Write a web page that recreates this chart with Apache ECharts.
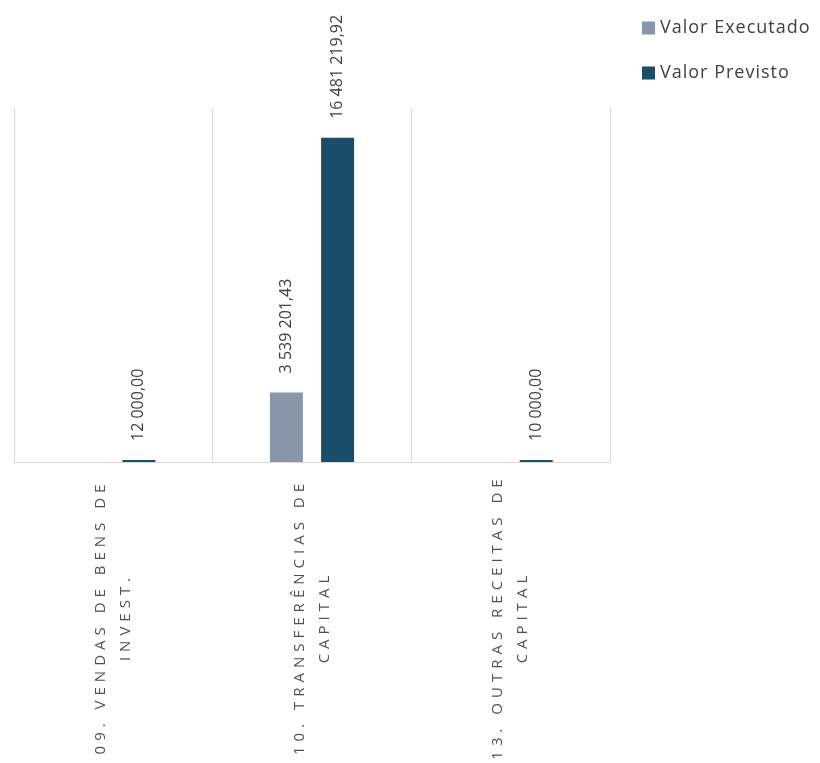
<!DOCTYPE html>
<html>
<head>
<meta charset="utf-8">
<script src="https://cdn.jsdelivr.net/npm/echarts@6/dist/echarts.min.js"></script>
<style>html,body{margin:0;padding:0;background:#fff}#c{width:820px;height:763px}</style>
</head>
<body>
<div id="c"></div>
<script>
const categories = ['09. VENDAS DE BENS DE\nINVEST.', '10. TRANSFERÊNCIAS DE\nCAPITAL', '13. OUTRAS RECEITAS DE\nCAPITAL'];
const seriesNames = ['Valor Executado', 'Valor Previsto'];
const valorExecutado = [null, 3539201.43, null];
const valorPrevisto = [12000.00, 16481219.92, 10000.00];

// letter-spaced category labels and legend text (as in the original)
const spacing = new Map();
categories.forEach(c => c.split('\n').forEach(l => spacing.set(l, '5px')));
seriesNames.forEach(n => spacing.set(n, '1px'));
const origFill = CanvasRenderingContext2D.prototype.fillText;
CanvasRenderingContext2D.prototype.fillText = function (t, x, y, w) {
  const want = spacing.get(t) || '0px';
  if (this.letterSpacing !== want) {
    this.letterSpacing = want;
    const f = this.font; this.font = f;
  }
  if (w === undefined) origFill.call(this, t, x, y); else origFill.call(this, t, x, y, w);
};

function fmt(v) {
  const parts = v.toFixed(2).split('.');
  const intPart = parts[0].replace(/\B(?=(\d{3})+(?!\d))/g, ' ');
  return intPart + ',' + parts[1];
}

const FONT = '"Open Sans", "Noto Sans", sans-serif';
const chart = echarts.init(document.getElementById('c'), null, {renderer: 'canvas'});
const labelCfg = {
  show: true,
  position: 'top',
  rotate: 90,
  align: 'left',
  verticalAlign: 'middle',
  distance: 19,
  fontFamily: FONT,
  fontSize: 16,
  color: '#404040',
  formatter: p => fmt(p.value)
};
chart.setOption({
  animation: false,
  backgroundColor: '#ffffff',
  legend: {
    orient: 'vertical',
    left: 642,
    top: 19,
    padding: 0,
    itemWidth: 13,
    itemHeight: 13,
    itemGap: 27,
    icon: 'rect',
    textStyle: {fontFamily: FONT, fontSize: 18, color: '#404040'},
    data: seriesNames
  },
  grid: {left: 14, right: 210, top: 108, bottom: 301, containLabel: false},
  xAxis: {
    type: 'category',
    data: categories,
    axisLine: {show: true, lineStyle: {color: '#d9d9d9', width: 1}},
    axisTick: {show: false},
    splitLine: {show: true, lineStyle: {color: '#d9d9d9', width: 1}},
    axisLabel: {
      interval: 0,
      rotate: 90,
      align: 'center',
      verticalAlign: 'middle',
      margin: 155,
      fontFamily: FONT,
      fontSize: 15,
      lineHeight: 25,
      color: '#505050'
    }
  },
  yAxis: {
    type: 'value',
    min: 0,
    max: 18000000,
    show: false,
    splitLine: {show: false}
  },
  series: [
    {
      name: seriesNames[0],
      type: 'bar',
      data: valorExecutado,
      barWidth: 33,
      barGap: '55%',
      barMinHeight: 2,
      itemStyle: {color: '#8796a8'},
      label: labelCfg
    },
    {
      name: seriesNames[1],
      type: 'bar',
      data: valorPrevisto,
      barWidth: 33,
      barGap: '55%',
      barMinHeight: 2,
      itemStyle: {color: '#1a4c6b'},
      label: labelCfg
    }
  ]
});
</script>
</body>
</html>
